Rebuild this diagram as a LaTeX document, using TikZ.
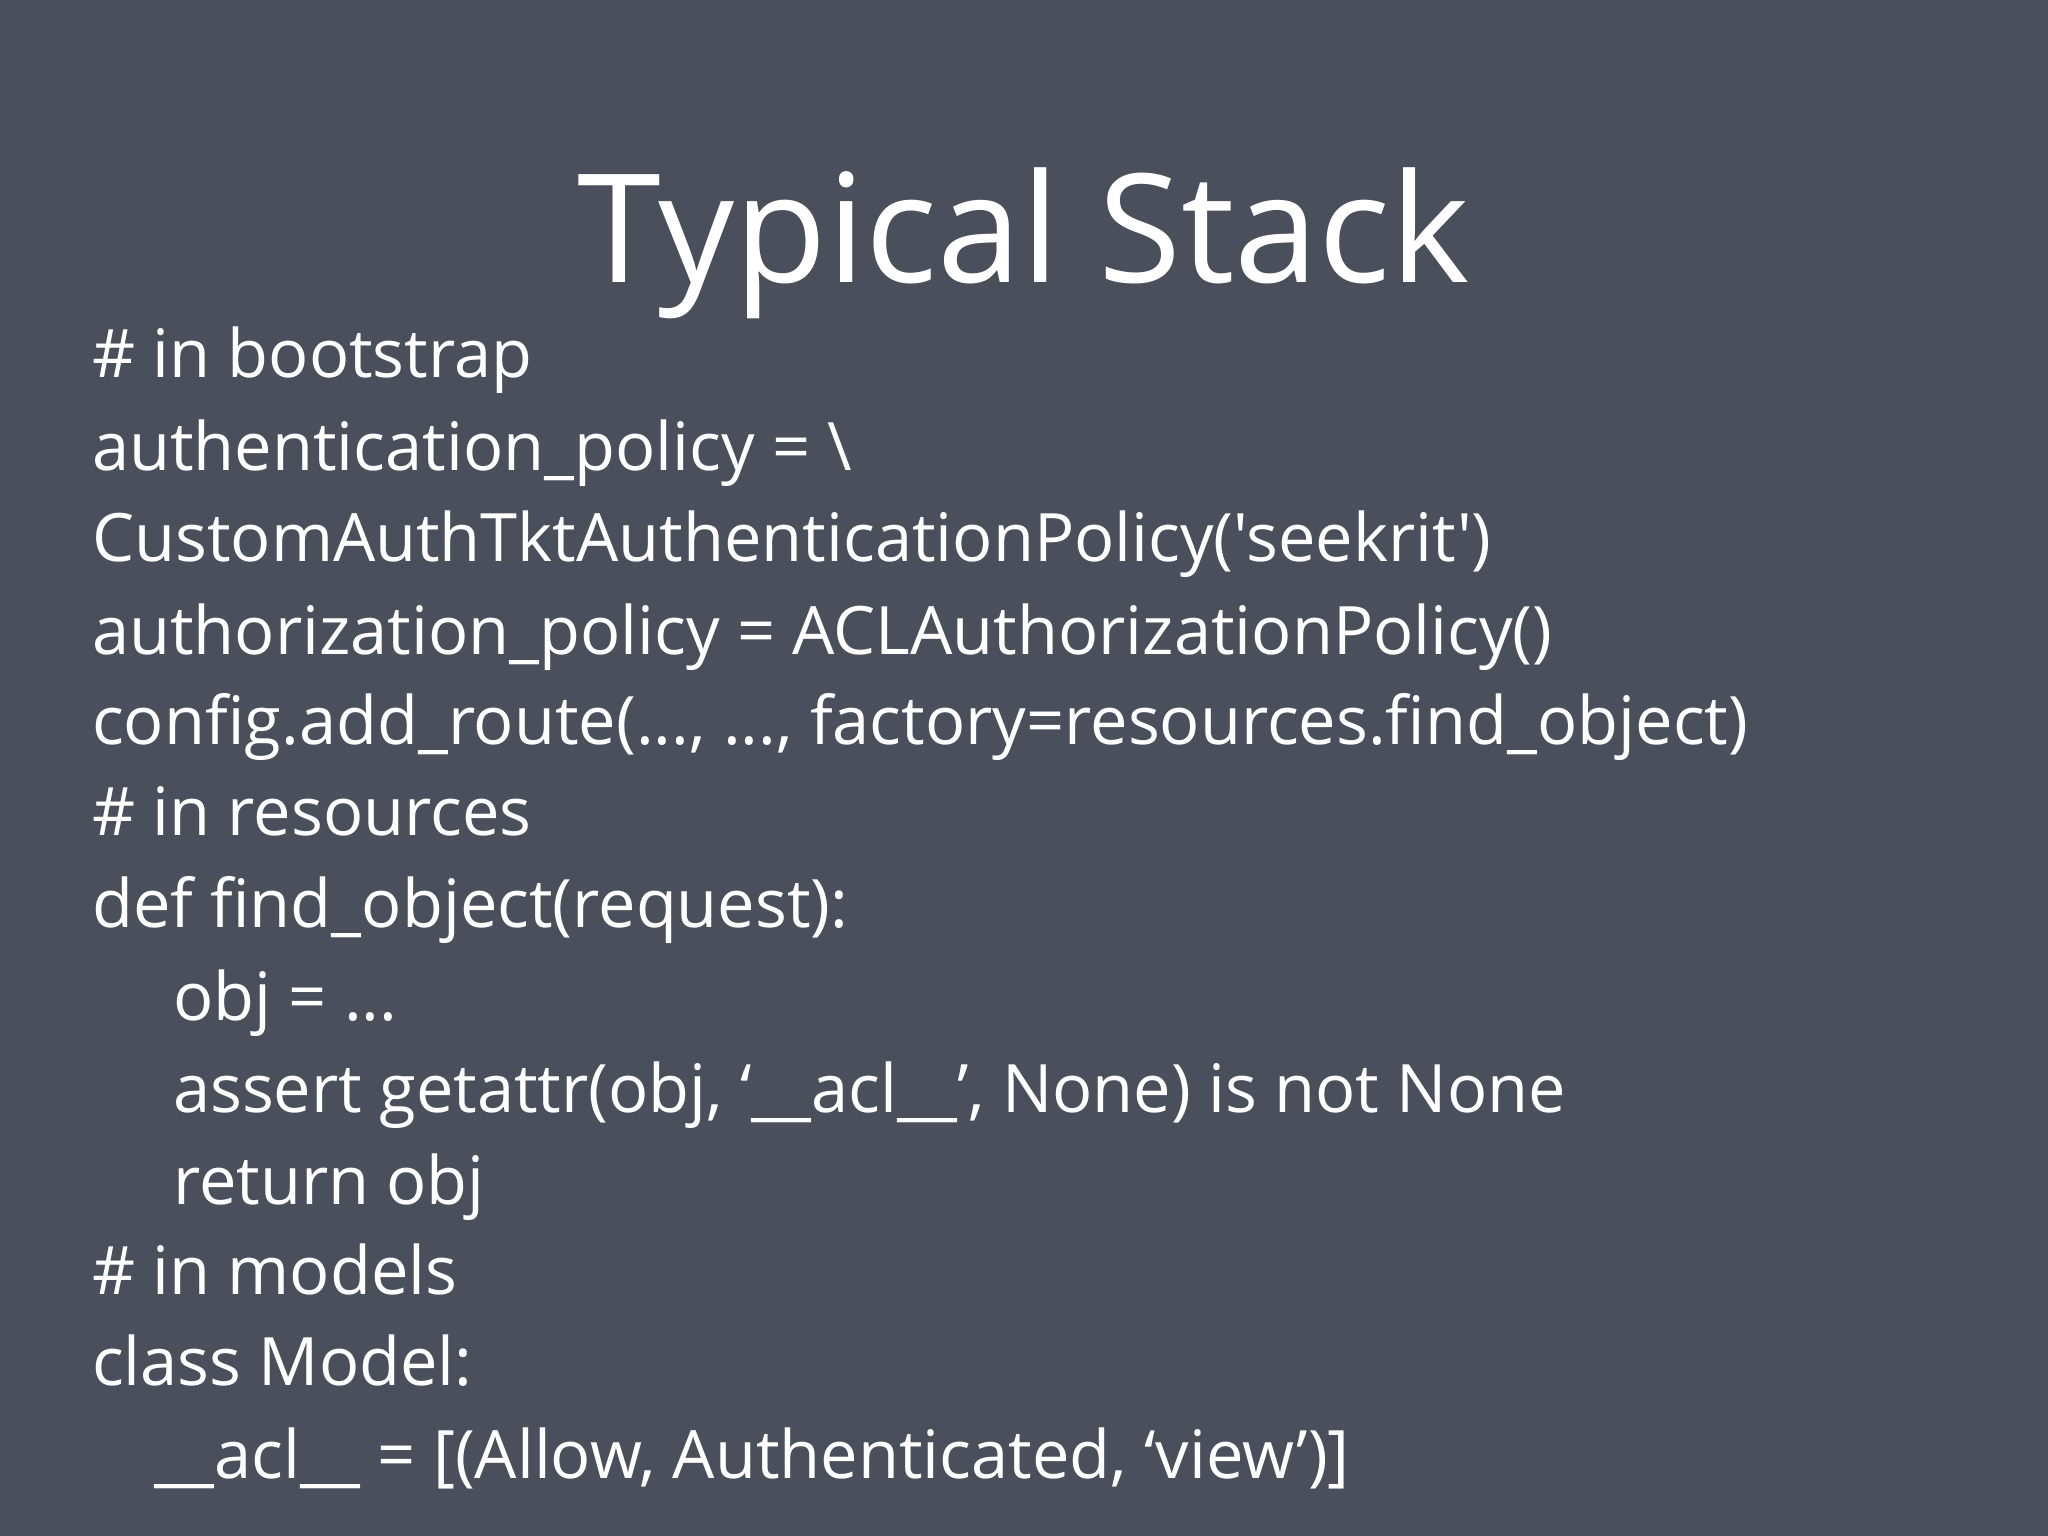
\documentclass[tikz,border=0pt]{standalone}
\usepackage{fontspec}
\setmainfont{Open Sans}[Ligatures=TeXOff]
\definecolor{board}{RGB}{74,79,91}
\begin{document}
\begin{tikzpicture}[x=0.013061cm,y=-0.013061cm,
  code/.style={anchor=base west,text=white,inner sep=0pt,font=\fontsize{19}{22}\selectfont}]
\fill[board] (0,0) rectangle (1568,1176);
\useasboundingbox (0,0) rectangle (1568,1176);
\node[text=white,font=\fontsize{43}{52}\selectfont] (title) at (784,186) {Typical Stack};
\node[code] (l1) at (70,289) {\# in bootstrap};
\node[code] (l2) at (70,360) {authentication\_policy = \textbackslash};
\node[code] (l3) at (70,430) {CustomAuthTktAuthenticationPolicy('seekrit')};
\node[code] (l4) at (70,501) {authorization\_policy = ACLAuthorizationPolicy()};
\node[code] (l5) at (70,570) {config.add\_route(..., ..., factory=resources.find\_object)};
\node[code] (l6) at (70,640) {\# in resources};
\node[code] (l7) at (70,710) {def find\_object(request):};
\node[code] (l8) at (132,781) {obj = ...};
\node[code] (l9) at (132,852) {assert getattr(obj, ‘\_\_acl\_\_’, None) is not None};
\node[code] (l10) at (132,922) {return obj};
\node[code] (l11) at (70,991) {\# in models};
\node[code] (l12) at (70,1061) {class Model:};
\node[code] (l13) at (118,1132) {\_\_acl\_\_ = [(Allow, Authenticated, ‘view’)]};
\end{tikzpicture}
\end{document}
